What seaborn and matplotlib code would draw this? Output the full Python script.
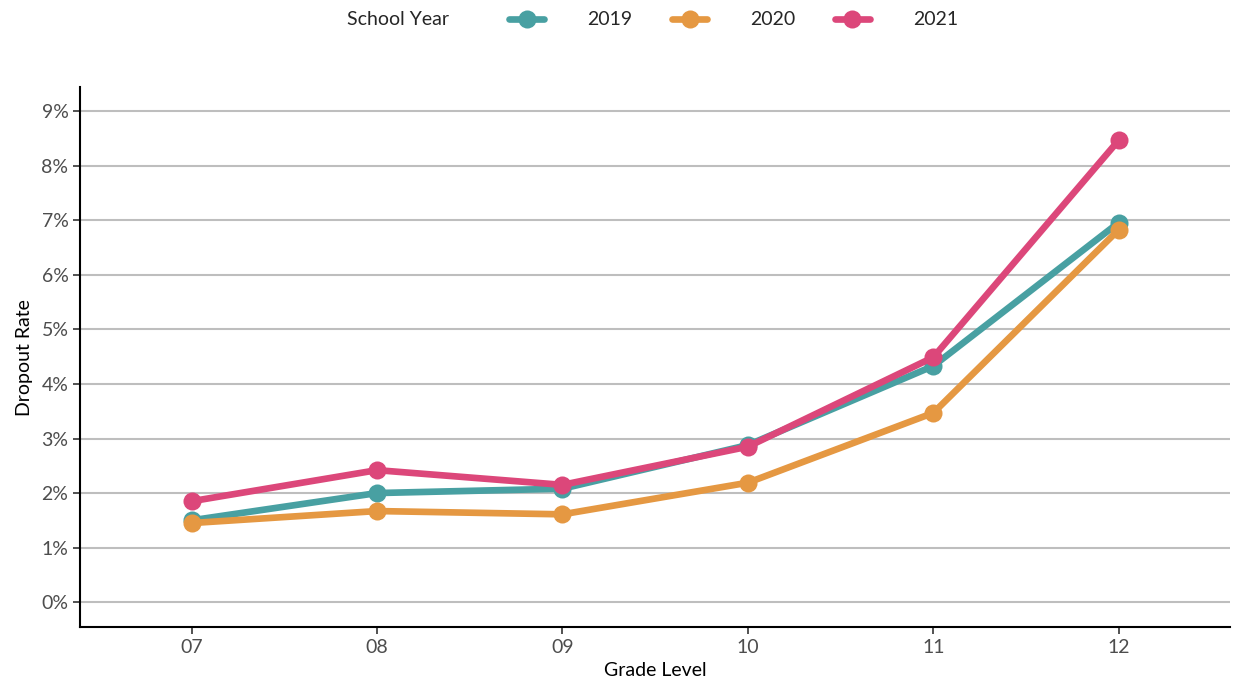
import pandas as pd
import matplotlib.pyplot as plt
import seaborn as sns
from matplotlib.ticker import FuncFormatter

# Dropout rate (%) by grade level and school year
grades = ['07', '08', '09', '10', '11', '12']
years = ['2019', '2020', '2021']
rate_2019 = [1.50, 2.00, 2.08, 2.88, 4.33, 6.96]
rate_2020 = [1.45, 1.67, 1.61, 2.19, 3.47, 6.83]
rate_2021 = [1.85, 2.42, 2.15, 2.85, 4.49, 8.47]
colors = ['#48A0A2', '#E59842', '#DC477A']

rows = []
for yr, vals in zip(years, [rate_2019, rate_2020, rate_2021]):
    for g, v in zip(grades, vals):
        rows.append({'Grade Level': g, 'School Year': yr, 'Dropout Rate': v})
df = pd.DataFrame(rows)
df['x'] = df['Grade Level'].map({g: i for i, g in enumerate(grades)})

sns.set_style('white')
plt.rcParams['font.family'] = ['Lato', 'DejaVu Sans']

fig = plt.figure(figsize=(12.35, 6.87), dpi=100)
ax = fig.add_axes([0.065, 0.087, 0.931, 0.786])

sns.lineplot(data=df, x='x', y='Dropout Rate', hue='School Year',
             palette=colors, linewidth=4.8, marker='o', markersize=13,
             markeredgewidth=0, ax=ax)

ax.set_xlim(-0.6, 5.6)
ax.set_ylim(-0.46, 9.44)
ax.set_xticks(range(len(grades)))
ax.set_xticklabels(grades)
ax.set_yticks(range(0, 10))
ax.yaxis.set_major_formatter(FuncFormatter(lambda v, p: f'{int(v)}%'))
ax.grid(axis='y', color='#BEBEBE', linewidth=1.5)
ax.set_axisbelow(True)
for s in ['top', 'right']:
    ax.spines[s].set_visible(False)
for s in ['left', 'bottom']:
    ax.spines[s].set_color('black')
    ax.spines[s].set_linewidth(1.5)
ax.tick_params(axis='both', length=5, width=1.2, color='#333333',
               labelsize=14, labelcolor='#4D4D4D', left=True, bottom=True)
ax.set_xlabel('Grade Level', fontsize=14, color='black')
ax.set_ylabel('Dropout Rate', fontsize=14, color='black', labelpad=6)

handles, labels = ax.get_legend_handles_labels()
ax.get_legend().remove()
fig.legend(handles, labels, ncol=3, loc='center', bbox_to_anchor=(0.594, 0.971),
           frameon=False, fontsize=14, handlelength=1.8, handletextpad=2.2,
           columnspacing=2.05)
fig.text(0.281, 0.971, 'School Year', fontsize=14, va='center', ha='left')

fig.savefig('out.png', dpi=100)
